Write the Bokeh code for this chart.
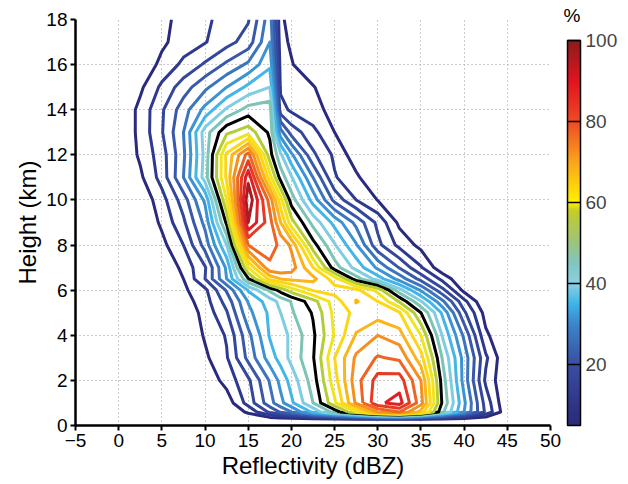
import numpy as np
from bokeh.plotting import figure
from bokeh.models import ColorBar, LinearColorMapper, FixedTicker
from bokeh.embed import file_html
from bokeh.resources import INLINE

# ---------------- data ----------------
# reflectivity grid (dBZ), columns of the frequency table
reflectivity = [-5, -2.5, 0, 2.5, 5, 7.5, 10, 12.5, 15, 17.5, 18.75, 20, 22.5, 25,
                27.5, 30, 32.5, 35, 37.5, 40, 42.5, 45, 47.5, 50]
# height grid (km), rows of the frequency table
heights = [0, 0.25, 0.6, 1, 2, 3, 4, 5, 5.5, 6, 6.5, 7, 8, 9, 10, 11, 12,
           13, 14, 15, 16, 17, 18]
# normalised frequency (%) at each (height, reflectivity)
frequency = [
    [0] * 24,                                                                                   # 0 km
    [0] * 24,                                                                                   # 0.25
    [0, 0, 0, 0, 0, 0, 0, 0, 6, 16, 20.5, 25, 36, 47, 60, 75, 80, 68, 46, 30, 14, 1, 0, 0],        # 0.6
    [0, 0, 0, 0, 0, 0, 0, 2, 12, 23, 28.5, 34, 45, 59, 76, 89, 92, 77, 49, 31, 13, 0, 0, 0],       # 1
    [0, 0, 0, 0, 0, 0, 1, 7, 14, 25.5, 31.5, 37, 47.5, 63, 78, 87, 87.5, 75, 47.5, 28, 9, 0, 0, 0],  # 2
    [0, 0, 0, 0, 0, 0, 4, 9.5, 21.5, 32.5, 37, 41.5, 49.5, 65, 76, 80.5, 79, 67, 44.5, 28, 11, 0, 0, 0],  # 3
    [0, 0, 0, 0, 0, 0, 5.6, 10.5, 23.5, 35.5, 38, 41, 49, 60.5, 70.5, 75, 72, 60, 39.5, 24, 6, 0, 0, 0],  # 4
    [0, 0, 0, 0, 0, 1, 6.8, 14.5, 28.5, 36, 40, 44.3, 50.5, 61.5, 66.5, 67.5, 65.5, 50, 34, 16, 3, 0, 0, 0],  # 5
    [0, 0, 0, 0, 0, 2.5, 7.8, 17, 30.3, 37.6, 41.5, 45.3, 53, 62.5, 70.5, 65, 54.5, 40.5, 26, 11.5, 0, 0, 0, 0],  # 5.5
    [0, 0, 0, 0, 0, 4, 8.8, 20.6, 35.5, 46, 52, 57.5, 65.5, 67, 66.5, 58.5, 42, 29.3, 16.4, 3.5, 0, 0, 0, 0],  # 6
    [0, 0, 0, 0, 0, 5, 15, 30, 49.5, 66.5, 70, 71.5, 71.5, 62.5, 47.3, 37.6, 28, 18.2, 8.5, 0, 0, 0, 0, 0],  # 6.5
    [0, 0, 0, 0, 0, 6.5, 14.5, 31, 60, 79, 79.5, 77.5, 65, 47.4, 38.2, 29, 19.7, 10.5, 1.3, 0, 0, 0, 0, 0],  # 7
    [0, 0, 0, 0, 3.5, 10, 22, 40, 80, 82, 79, 74, 52, 40.5, 30.5, 16.4, 8.5, 3.5, 0, 0, 0, 0, 0, 0],  # 8
    [0, 0, 0, 0, 6, 14, 26.5, 51, 95, 82, 70, 57, 43.3, 33.4, 23.5, 13.7, 3.8, 0, 0, 0, 0, 0, 0, 0],  # 9
    [0, 0, 0, 1, 8, 17.5, 31, 60, 99, 78, 62, 47.5, 33, 18.5, 10, 4.8, 0, 0, 0, 0, 0, 0, 0, 0],  # 10
    [0, 0, 0, 4, 12, 25, 42.5, 66, 93.5, 62, 48, 40.5, 25, 10.5, 6, 0, 0, 0, 0, 0, 0, 0, 0, 0],  # 11
    [0, 0, 0, 5.9, 12.7, 24, 41.7, 66, 82, 52, 41, 31, 16, 9, 2, 0, 0, 0, 0, 0, 0, 0, 0, 0],  # 12
    [0, 0, 0, 6.5, 14.6, 25, 42.5, 54, 58, 49, 27, 18, 11.5, 5, 0, 0, 0, 0, 0, 0, 0, 0, 0, 0],  # 13
    [0, 0, 0, 6.5, 14.3, 22.7, 31.5, 40.8, 47, 48, 12, 9, 6.5, 3.5, 0, 0, 0, 0, 0, 0, 0, 0, 0, 0],  # 14
    [0, 0, 0, 4, 11.1, 17.6, 23.8, 30, 36.3, 40, 9, 7, 5.5, 0, 0, 0, 0, 0, 0, 0, 0, 0, 0, 0],  # 15
    [0, 0, 0, 1, 6.4, 11.2, 15.7, 21, 26, 34, 8, 5.5, 0, 0, 0, 0, 0, 0, 0, 0, 0, 0, 0, 0],  # 16
    [0, 0, 0, 0, 4, 7.5, 9.7, 13.2, 17.3, 30, 7, 4, 0, 0, 0, 0, 0, 0, 0, 0, 0, 0, 0, 0],  # 17
    [0, 0, 0, 0, 3, 7.5, 9, 12, 14.5, 28, 6, 3, 0, 0, 0, 0, 0, 0, 0, 0, 0, 0, 0, 0],  # 18
]
levels = [5, 10, 15, 20, 25, 30, 35, 40, 45, 50, 55, 60, 65, 70, 75, 80, 85, 90, 95]
x_ticks = [-5, 0, 5, 10, 15, 20, 25, 30, 35, 40, 45, 50]
y_ticks = [0, 2, 4, 6, 8, 10, 12, 14, 16, 18]
cbar_ticks = [20, 40, 60, 80, 100]

# ---------------- styles ----------------
level_colors = ["#2a2b7e", "#2e3990", "#33479b", "#3a58a9", "#3b75bd", "#3b93d3",
                "#43b5e9", "#7fcde3", "#7cc4b4", "#000000", "#b4cc38", "#f2e41c",
                "#fdd616", "#fbb51b", "#f58f20", "#ee6423", "#e73a23", "#e01f24",
                "#a81d22"]
FONT = "Liberation Sans"


def hex2rgb(h):
    return tuple(int(h[i:i + 2], 16) for i in (1, 3, 5))


anchors = [(5, "#2a2a7a"), (20, "#3a4ea2"), (30, "#3b86cb"), (35, "#3db5ea"),
           (40, "#8dd0e4"), (45, "#80c7c2"), (50, "#9cc47e"), (58, "#c4cc28"),
           (60, "#fff200"), (70, "#faa61a"), (80, "#ef4b25"), (90, "#e2141f"),
           (100, "#8c1c1c")]
cb_palette = []
for v in np.linspace(5, 100, 256):
    for (v0, c0), (v1, c1) in zip(anchors[:-1], anchors[1:]):
        if v0 <= v <= v1:
            t = (v - v0) / (v1 - v0)
            a, b = hex2rgb(c0), hex2rgb(c1)
            cb_palette.append("#%02x%02x%02x" % tuple(int(round(a[k] + t * (b[k] - a[k]))) for k in range(3)))
            break

p = figure(width=628, height=484, x_range=(-5, 50), y_range=(0, 18),
           output_backend="svg", toolbar_location=None,
           min_border_left=75, min_border_right=78, min_border_top=19,
           min_border_bottom=59)
p.outline_line_color = None
p.background_fill_color = "white"

# the colour-bar unit, shown above the colour bar
p.title.text = "%"
p.title.align = "right"
p.title.offset = -30
p.title.standoff = -13
p.title.text_font = FONT
p.title.text_font_size = "19px"
p.title.text_font_style = "normal"
p.title.text_color = "black"

p.contour(np.array(reflectivity, dtype=float), np.array(heights, dtype=float),
          np.array(frequency, dtype=float), levels,
          line_color=level_colors, line_width=3, line_join="round")

for ax in (p.xaxis, p.yaxis):
    ax.axis_line_width = 2.5
    ax.axis_line_color = "black"
    ax.major_tick_line_width = 2
    ax.major_tick_out = 5
    ax.major_tick_in = 0
    ax.minor_tick_line_color = None
    ax.major_label_text_font = FONT
    ax.major_label_text_font_size = "19px"
    ax.major_label_text_color = "black"
    ax.axis_label_text_font = FONT
    ax.axis_label_text_font_size = "24px"
    ax.axis_label_text_font_style = "normal"
    ax.axis_label_text_color = "black"
    ax.major_label_standoff = 3
    ax.axis_label_standoff = 2

p.xaxis.ticker = x_ticks
p.yaxis.ticker = y_ticks
p.xaxis.major_label_overrides = {-5: "\u22125"}
p.xaxis.axis_label = "Reflectivity (dBZ)"
p.yaxis.axis_label = "Height (km)"

p.grid.grid_line_color = "#9a9a9a"
p.grid.grid_line_dash = "1 3"
p.grid.grid_line_width = 1
p.xgrid.ticker = x_ticks
p.ygrid.ticker = y_ticks

mapper = LinearColorMapper(palette=cb_palette, low=5, high=100)
cb = ColorBar(color_mapper=mapper, width=13, height=385,
              ticker=FixedTicker(ticks=cbar_ticks),
              major_label_text_font=FONT, major_label_text_font_size="19px",
              label_standoff=5, major_tick_line_color="black", major_tick_in=13,
              major_tick_out=0, major_tick_line_width=1.5,
              bar_line_color="black", bar_line_width=1.5,
              padding=0, margin=0, location=(492, 0),
              border_line_color=None, background_fill_color=None)
p.add_layout(cb, "center")

open("out.html", "w").write(file_html(p, INLINE))
